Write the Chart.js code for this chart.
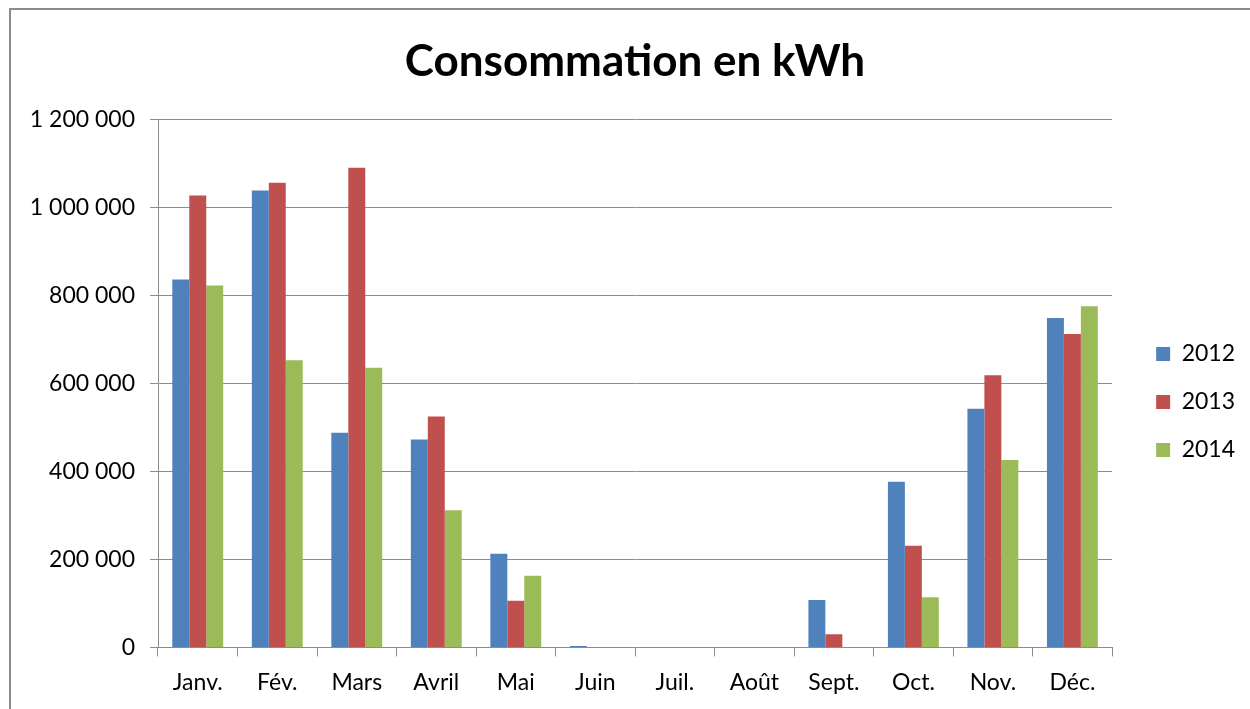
<!DOCTYPE html>
<html>
<head>
<meta charset="utf-8">
<script src="https://cdn.jsdelivr.net/npm/chart.js@4"></script>
<style>
  html, body { margin: 0; padding: 0; background: #fff; }
  #wrap { position: relative; width: 1250px; height: 709px; overflow: hidden; }
  #frame { position: absolute; left: 9px; top: 8px; width: 1300px; height: 800px;
           border-left: 2px solid #8c8c8c; border-top: 2px solid #8c8c8c; }
  canvas { position: absolute; left: 0; top: 0; }
</style>
</head>
<body>
<div id="wrap">
  <div id="frame"></div>
  <canvas id="c" width="1250" height="709"></canvas>
</div>
<script>
const months = ["Janv.", "Fév.", "Mars", "Avril", "Mai", "Juin", "Juil.", "Août", "Sept.", "Oct.", "Nov.", "Déc."];
const years = ["2012", "2013", "2014"];
const kwh2012 = [837000, 1039000, 488000, 473000, 213000, 3000, 0, 0, 108000, 377000, 543000, 749000];
const kwh2013 = [1028000, 1057000, 1091000, 525000, 106000, 0, 0, 0, 30000, 231000, 619000, 713000];
const kwh2014 = [823000, 653000, 636000, 312000, 163000, 0, 0, 0, 0, 114000, 426000, 776000];
const colors = ["#4F81BD", "#C0504D", "#9BBB59"];

const fmt = v => String(v).replace(/\B(?=(\d{3})+(?!\d))/g, " ");
const font = "Lato, 'Liberation Sans', sans-serif";

// nudge legend and title to where Excel put them
const nudge = {
  id: "nudge",
  afterLayout(chart) {
    const lg = chart.legend;
    lg.top += 48; lg.bottom += 48;
    lg.left += 19; lg.right += 19;
    const t = chart.titleBlock;
    t.left += 17; t.right += 17;
  }
};

new Chart(document.getElementById("c"), {
  type: "bar",
  data: {
    labels: months,
    datasets: [kwh2012, kwh2013, kwh2014].map((d, i) => ({
      label: years[i],
      data: d,
      backgroundColor: colors[i],
      borderWidth: 0,
      categoryPercentage: 0.64,
      barPercentage: 1.0
    }))
  },
  options: {
    responsive: false,
    animation: false,
    layout: { padding: { left: 10, right: 24, top: 0, bottom: 1 } },
    plugins: {
      title: {
        display: true,
        text: "Consommation en kWh",
        color: "#000",
        font: { family: font, size: 44, weight: "bold" },
        padding: { top: 35, bottom: 32 }
      },
      legend: {
        position: "right",
        labels: {
          color: "#000",
          font: { family: font, size: 23 },
          boxWidth: 14,
          boxHeight: 14,
          padding: 25
        }
      },
      tooltip: { enabled: false }
    },
    scales: {
      x: {
        grid: { drawOnChartArea: false, color: "#8c8c8c", tickLength: 9, offset: true },
        border: { color: "#8c8c8c" },
        ticks: { color: "#000", font: { family: font, size: 23 }, padding: 12, maxRotation: 0 }
      },
      y: {
        min: 0,
        max: 1200000,
        afterFit: s => { s.width = 148; },
        grid: { color: "#8c8c8c", tickLength: 8 },
        border: { color: "#8c8c8c" },
        ticks: { stepSize: 200000, color: "#000", font: { family: font, size: 23 }, padding: 15, callback: v => fmt(v) }
      }
    }
  },
  plugins: [nudge]
});
</script>
</body>
</html>
